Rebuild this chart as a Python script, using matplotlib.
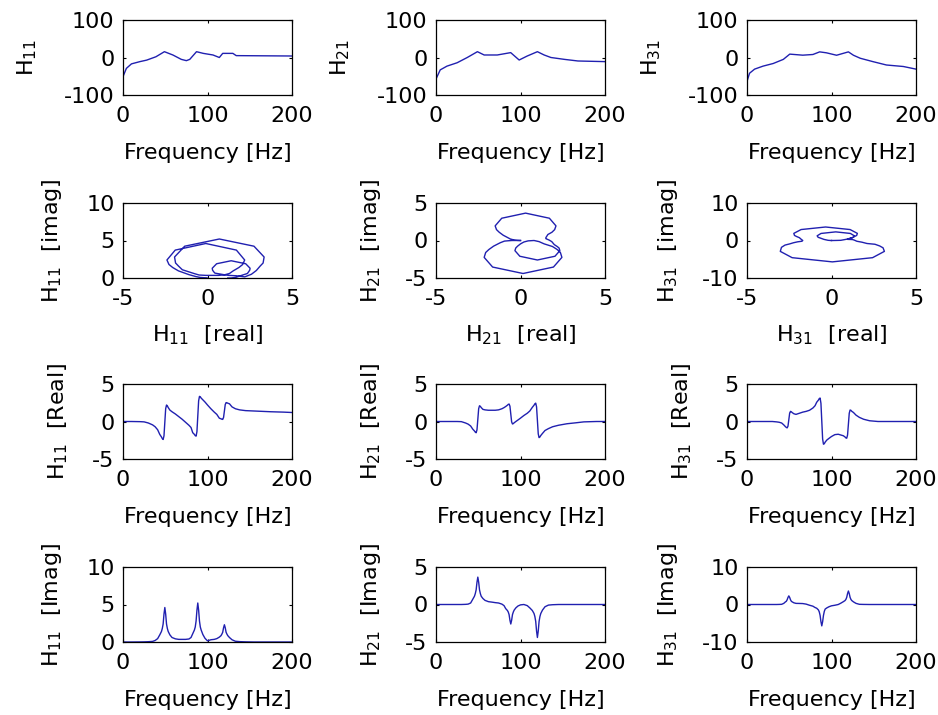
import matplotlib
matplotlib.use("Agg")
import matplotlib.pyplot as plt

# ---- frequency response data ----
# fine grid used for the real / imag / nyquist panels
freq = [0, 10, 20, 25, 30, 35, 38, 41,
        43.5, 45.5, 46.5, 47.5, 48.5, 49.5, 50.5, 51.5, 52.5, 53.5, 55.5,
        58, 62, 66, 70, 74, 78, 80.5,
        82.5, 84.5, 85.5, 86.5, 87.5, 88.5, 89.5, 90.5, 91.5, 92.5, 94.5,
        97, 100, 104, 108, 111,
        114, 116, 117, 118, 119, 120, 121, 122, 123, 124, 126,
        129, 133, 138, 145, 155, 165, 175, 190, 200]

h11_re = [0, 0, -0.02, -0.05, -0.2, -0.45, -0.7, -1.1,
          -1.72, -2.06, -2.28, -2.4, -1.91, -0.1, 1.71, 2.2, 2.08, 1.86, 1.52,
          1.3, 1.0, 0.65, 0.3, -0.1, -0.5, -0.8,
          -1.49, -1.72, -1.89, -1.95, -1.35, 0.7, 2.75, 3.35, 3.29, 3.12, 2.89,
          2.6, 2.2, 1.7, 1.25, 0.95,
          0.44, 0.36, 0.3, 0.28, 0.54, 1.4, 2.26, 2.52, 2.5, 2.44, 2.36,
          1.95, 1.7, 1.55, 1.45, 1.4, 1.35, 1.3, 1.25, 1.2]
h11_im = [0, 0, 0.01, 0.02, 0.04, 0.08, 0.2, 0.45,
          0.95, 1.4, 1.8, 2.4, 3.72, 4.6, 3.72, 2.4, 1.8, 1.4, 0.95,
          0.6, 0.42, 0.35, 0.35, 0.35, 0.4, 0.6,
          1.1, 1.6, 2.0, 2.8, 4.24, 5.2, 4.24, 2.8, 2.0, 1.6, 1.0,
          0.5, 0.15, 0.3, 0.35, 0.45,
          0.65, 0.85, 1.05, 1.3, 1.9, 2.3, 1.9, 1.3, 1.05, 0.85, 0.6,
          0.3, 0.1, 0.05, 0.02, 0, 0, 0, 0, 0]

h21_re = [0, 0, 0, 0, -0.02, -0.2, -0.35, -0.6,
          -1.02, -1.26, -1.42, -1.5, -1.11, 0.3, 1.71, 2.1, 2.02, 1.86, 1.62,
          1.55, 1.5, 1.5, 1.5, 1.55, 1.7, 1.85,
          2.0, 2.17, 2.28, 2.33, 2.04, 1.0, -0.04, -0.33, -0.28, -0.17, 0.0,
          0.2, 0.45, 0.8, 1.1, 1.4,
          1.89, 2.17, 2.36, 2.45, 1.95, 0.15, -1.65, -2.15, -2.06, -1.87, -1.59,
          -1.2, -0.95, -0.7, -0.5, -0.3, -0.18, -0.05, 0, 0]
h21_im = [0, 0, 0, 0, 0, 0.02, 0.05, 0.2,
          0.7, 1.1, 1.45, 1.95, 2.97, 3.65, 2.97, 1.95, 1.45, 1.1, 0.8,
          0.55, 0.38, 0.32, 0.25, 0.2, 0.05, -0.15,
          -0.55, -0.8, -1.0, -1.35, -2.1, -2.6, -2.1, -1.35, -1.0, -0.75, -0.45,
          -0.2, -0.05, 0.0, -0.15, -0.45,
          -0.8, -1.2, -1.6, -2.25, -3.54, -4.4, -3.54, -2.25, -1.6, -1.2, -0.75,
          -0.3, -0.08, -0.03, 0, 0, 0, 0, 0, 0]

h31_re = [0, 0, 0, 0, 0, -0.05, -0.1, -0.2,
          -0.45, -0.69, -0.79, -0.85, -0.62, 0.25, 1.12, 1.35, 1.29, 1.19, 1.03,
          0.95, 1.1, 1.25, 1.35, 1.5, 1.8, 2.1,
          2.57, 2.85, 3.05, 3.13, 2.43, 0.05, -2.33, -3.03, -2.96, -2.75, -2.47,
          -2.25, -2.0, -1.75, -1.7, -1.8,
          -1.9, -2.06, -2.19, -2.23, -1.8, -0.35, 1.1, 1.53, 1.49, 1.36, 1.2,
          0.85, 0.55, 0.3, 0.1, 0, 0, 0, 0, 0]
h31_im = [0, 0, 0, 0, 0, 0, 0.02, 0.05,
          0.3, 0.7, 0.85, 1.25, 1.88, 2.3, 1.88, 1.25, 0.85, 0.7, 0.45,
          0.3, 0.28, 0.25, 0.1, -0.2, -0.45, -0.8,
          -1.0, -1.45, -1.95, -2.9, -4.58, -5.7, -4.58, -2.9, -1.82, -1.22, -0.9,
          -0.6, -0.35, -0.2, 0.0, 0.35,
          0.75, 1.05, 1.35, 1.9, 2.92, 3.6, 2.92, 1.9, 1.35, 1.05, 0.7,
          0.3, 0.05, 0.02, 0, 0, 0, 0, 0, 0]

# top row (coarse magnitude curves, each on its own frequency points)
mag11_f = [0, 4, 10, 20, 28, 39, 49, 59, 69, 75, 79, 87, 95, 106.5, 114, 118, 130, 134, 200]
mag11_db = [-51, -29, -17, -11, -7, 2, 15.5, 6.7, -5, -8.4, -5, 15.5, 11, 6.7, 0, 11, 11, 5, 4]
mag21_f = [0.5, 5, 13, 25, 37, 49, 57, 72.5, 88.4, 98.4, 108, 120, 128, 136, 152, 168, 200]
mag21_db = [-55, -33, -23, -14, 0, 15.5, 6.7, 6.7, 13, -6.7, 4, 15.5, 6.7, 0, -5, -9.3, -11]
mag31_f = [0.5, 3, 9, 19, 31, 43, 50.6, 66, 78, 86, 94, 106, 120, 126, 134, 149, 165, 185, 200]
mag31_db = [-60, -42, -31, -23, -16, -5, 9, 6.2, 8, 15, 12.5, 6, 15, 6, -2, -11, -20, -24, -31]

names = ['11', '21', '31']
re_list = [h11_re, h21_re, h31_re]
im_list = [h11_im, h21_im, h31_im]
mag_f = [mag11_f, mag21_f, mag31_f]
mag_db = [mag11_db, mag21_db, mag31_db]
im_lims = [(0, 10), (-5, 5), (-10, 10)]

LINE = '#2020b0'
FS = 16

plt.rcParams['mathtext.default'] = 'regular'
plt.rcParams['axes.unicode_minus'] = False
plt.rcParams['font.family'] = 'DejaVu Sans'

W, H = 938, 715
COL_X = [123, 436, 747]
ROW_Y = [20, 203, 384, 567]
AX_W, AX_H = 169, 75


def add_panel(fig, row, col):
    x, y = COL_X[col], ROW_Y[row]
    return fig.add_axes([x / W, 1 - (y + AX_H) / H, AX_W / W, AX_H / H])


def style(ax, xlim, ylim):
    ax.set_xlim(xlim)
    ax.set_ylim(ylim)
    ax.set_xticks([xlim[0], (xlim[0] + xlim[1]) / 2, xlim[1]])
    ax.set_yticks([ylim[0], (ylim[0] + ylim[1]) / 2, ylim[1]])
    ax.tick_params(direction='in', length=2.5, width=0.8, top=True, right=True,
                   labelsize=FS)
    ax.tick_params(axis='x', pad=8)
    ax.tick_params(axis='y', pad=6)
    for s in ax.spines.values():
        s.set_linewidth(0.9)


fig = plt.figure(figsize=(W / 100, H / 100), dpi=100)

for c in range(3):
    n = names[c]
    sub = 'H$_{%s}$' % n

    # row 1: magnitude
    ax = add_panel(fig, 0, c)
    ax.plot(mag_f[c], mag_db[c], color=LINE, lw=1.0)
    style(ax, (0, 200), (-100, 100))
    ax.set_xticklabels(['0', '100', '200'])
    ax.set_ylabel(sub, fontsize=FS, labelpad=18)
    ax.set_xlabel('Frequency [Hz]', fontsize=FS, labelpad=12)

    # row 2: nyquist
    ax = add_panel(fig, 1, c)
    ax.plot(re_list[c], im_list[c], color=LINE, lw=1.0)
    style(ax, (-5, 5), im_lims[c])
    ax.set_xticklabels(['-5', '0', '5'])
    ax.set_ylabel(sub + '  [imag]', fontsize=FS, labelpad=16)
    ax.set_xlabel(sub + '  [real]', fontsize=FS, labelpad=10)

    # row 3: real part
    ax = add_panel(fig, 2, c)
    ax.plot(freq, re_list[c], color=LINE, lw=1.0)
    style(ax, (0, 200), (-5, 5))
    ax.set_xticklabels(['0', '100', '200'])
    ax.set_ylabel(sub + '  [Real]', fontsize=FS, labelpad=16)
    ax.set_xlabel('Frequency [Hz]', fontsize=FS, labelpad=12)

    # row 4: imaginary part
    ax = add_panel(fig, 3, c)
    ax.plot(freq, im_list[c], color=LINE, lw=1.0)
    style(ax, (0, 200), im_lims[c])
    ax.set_xticklabels(['0', '100', '200'])
    ax.set_ylabel(sub + '  [Imag]', fontsize=FS, labelpad=16)
    ax.set_xlabel('Frequency [Hz]', fontsize=FS, labelpad=12)

fig.savefig('out.png', dpi=100)
